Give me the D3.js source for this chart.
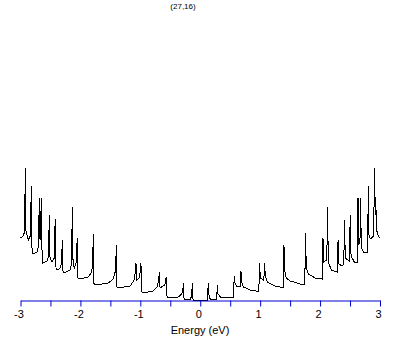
<!DOCTYPE html>
<html>
<head>
<meta charset="utf-8">
<script src="https://cdn.jsdelivr.net/npm/d3@7"></script>
<style>
  body { margin: 0; background: #fff; }
  text { font-family: "Liberation Sans", Arial, sans-serif; }
</style>
</head>
<body>
<div id="chart"></div>
<script>
// chart values
var title = "(27,16)";
var xLabel = "Energy (eV)";
var tickValues = [-3, -2.5, -2, -1.5, -1, -0.5, 0, 0.5, 1, 1.5, 2, 2.5, 3];

// energy (eV) and density of states (arb. units)
var energy = [
  -3.0, -2.955, -2.933, -2.926, -2.921, -2.911, -2.871, -2.838, -2.830, -2.821, -2.811,
  -2.805, -2.721, -2.696, -2.688, -2.674, -2.663, -2.654, -2.641,
  -2.629, -2.554, -2.529, -2.521, -2.507, -2.471, -2.437, -2.421, -2.407,
  -2.387, -2.337, -2.312, -2.304, -2.290,
  -2.270, -2.170, -2.145, -2.137, -2.123, -2.103, -2.070, -2.053, -2.040,
  -2.003, -1.870, -1.820, -1.795, -1.786, -1.773,
  -1.736, -1.536, -1.452, -1.411, -1.402, -1.389,
  -1.369, -1.169, -1.102, -1.080, -1.073, -1.060, -1.018, -0.997, -0.990, -0.977,
  -0.952, -0.785, -0.718, -0.693, -0.684, -0.671, -0.593, -0.576, -0.568, -0.554,
  -0.534, -0.367, -0.309, -0.289, -0.284, -0.270, -0.167, -0.142, -0.134, -0.120,
  0.120, 0.134, 0.147, 0.167, 0.275, 0.284, 0.297,
  0.334, 0.551, 0.568, 0.581, 0.609, 0.668, 0.679, 0.693,
  0.718, 0.835, 0.977, 0.990, 1.002, 1.052, 1.063, 1.073, 1.085,
  1.118, 1.252, 1.386, 1.397, 1.407, 1.436,
  1.502, 1.669, 1.745, 1.756, 1.770,
  1.803, 1.920, 2.037, 2.048, 2.062, 2.112, 2.125, 2.137,
  2.187, 2.287, 2.300, 2.314,
  2.370, 2.396, 2.407, 2.421, 2.487, 2.504, 2.517,
  2.571, 2.621, 2.633, 2.646, 2.666, 2.676, 2.688,
  2.738, 2.793, 2.805, 2.816,
  2.838, 2.893, 2.910, 2.921, 2.931, 2.943, 2.972, 3.0
];
var dos = [
  3.1, 3.2, 3.4, 4.75, 6.6, 3.5, 3.0, 3.2, 3.6, 5.7, 3.0,
  2.3, 2.4, 2.75, 5.1, 3.0, 3.5, 5.1, 2.5,
  1.85, 1.95, 2.25, 4.25, 2.1, 1.9, 2.1, 4.05, 1.6,
  1.5, 1.6, 1.9, 3.0, 1.4,
  1.35, 1.5, 1.9, 4.65, 1.9, 1.6, 1.9, 3.1, 1.1,
  1.05, 1.15, 1.35, 1.75, 3.3, 0.8,
  0.75, 0.85, 1.05, 1.5, 2.75, 0.65,
  0.6, 0.7, 1.0, 1.5, 1.85, 1.0, 1.1, 1.5, 1.85, 0.4,
  0.35, 0.45, 0.65, 1.0, 1.4, 0.6, 0.75, 1.0, 1.15, 0.15,
  0.12, 0.15, 0.3, 0.5, 0.85, 0.05, 0.05, 0.2, 0.85, 0,
  0, 0.85, 0.2, 0.05, 0.05, 0.75, 0.3,
  0.15, 0.12, 1.2, 0.85, 0.7, 0.7, 1.45, 0.9,
  0.65, 0.5, 0.42, 1.85, 1.1, 1.0, 1.1, 1.85, 1.25,
  0.9, 0.7, 0.62, 2.75, 1.5, 1.1,
  0.95, 0.8, 0.75, 3.35, 1.6,
  1.3, 1.1, 1.05, 3.1, 1.9, 2.0, 4.65, 1.9,
  1.5, 1.4, 3.0, 1.8,
  1.7, 1.8, 4.0, 2.1, 1.95, 4.25, 2.2,
  1.9, 1.9, 5.1, 2.75, 3.0, 5.1, 2.6,
  2.35, 2.4, 5.7, 3.25,
  3.05, 3.2, 6.6, 4.25, 4.75, 3.5, 3.2, 3.1
];

var svgWidth = 409;
var svgHeight = 345;

var svg = d3.select("#chart")
  .append("svg")
  .attr("width", svgWidth)
  .attr("height", svgHeight);

var x = d3.scaleLinear().domain([-3, 3]).range([20.5, 380]);
var y = d3.scaleLinear().domain([0, 14]).range([300, 20]);

var points = energy.map(function(e, i) { return [e, dos[i]]; });

var line = d3.line()
  .x(d => x(d[0]))
  .y(d => y(d[1]));

// DOS curve
svg.append("path")
  .datum(points)
  .attr("fill", "none")
  .attr("stroke", "#000")
  .attr("stroke-width", 1)
  .attr("shape-rendering", "crispEdges")
  .attr("d", line);

// blue energy axis
var bottomAxis = d3.axisBottom(x)
  .tickValues(tickValues)
  .tickSize(6)
  .tickSizeOuter(0)
  .tickFormat(d => Number.isInteger(d) ? String(d) : "");

var xAxis = svg.append("g")
  .attr("transform", "translate(0, 300.5)")
  .call(bottomAxis);

xAxis.select(".domain").attr("stroke", "#0000cc");
xAxis.selectAll(".tick line").attr("stroke", "#0000cc");
xAxis.selectAll(".tick text")
  .attr("fill", "#000")
  .attr("font-size", "11px")
  .attr("font-family", "Liberation Sans, Arial, sans-serif")
  .attr("dx", "-2")
  .attr("y", 10);

// axis label
svg.append("text")
  .attr("x", 200)
  .attr("y", 334)
  .attr("text-anchor", "middle")
  .attr("font-size", "11px")
  .text(xLabel);

// title
svg.append("text")
  .attr("x", 183)
  .attr("y", 8.5)
  .attr("text-anchor", "middle")
  .attr("font-size", "8px")
  .text(title);
</script>
</body>
</html>
